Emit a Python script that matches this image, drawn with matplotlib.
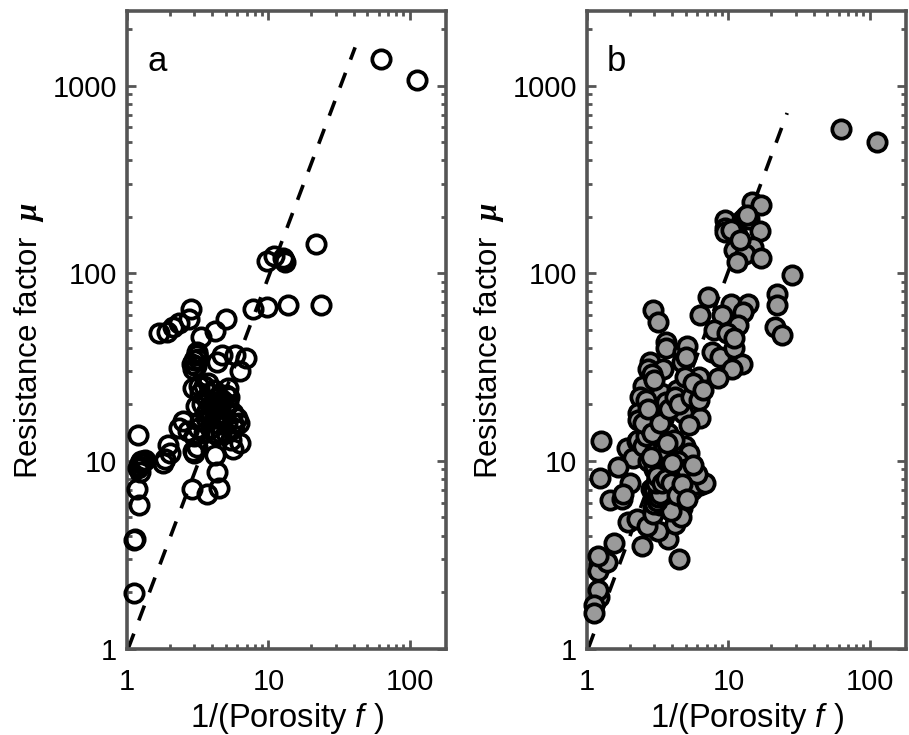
import matplotlib
matplotlib.use("Agg")
import matplotlib.pyplot as plt
from matplotlib.ticker import FixedLocator, FixedFormatter, NullFormatter

plt.rcParams['font.family'] = ['Liberation Sans', 'DejaVu Sans']
plt.rcParams['mathtext.fontset'] = 'custom'
plt.rcParams['mathtext.it'] = 'Liberation Sans:italic'
plt.rcParams['mathtext.rm'] = 'Liberation Sans'
plt.rcParams['mathtext.bfit'] = 'Liberation Serif:italic:bold'

# panel a
ax_x = [62, 112, 21.7, 23.5, 13.8, 9.7, 7.8, 9.7, 11, 12.6, 13, 12.8,
        2.83, 2.74, 2.33, 2.11, 1.92, 1.68, 3.33, 4.18, 5,
        3.1, 3, 2.9, 3.05, 3.15, 2.95, 3.2, 3.1, 4.7, 4.3, 5.8, 6.9, 6.3,
        2.93, 3.73, 5.2, 3.3, 5, 3.05, 4.3, 3.66, 5.6, 2.5, 2.33, 5.6, 4.5, 3.3,
        3.5, 3.8, 4.1, 4.4, 4.7, 3.4, 3.7, 4, 4.3, 4.6, 4.9, 5.2, 3.6, 3.9, 4.2, 4.5, 4.8, 5.1,
        3.2, 3.5, 3.9, 4.1, 4.6, 5.0, 2.7, 3.0, 5.4, 6.2, 6.0, 5.7, 3.25, 3.6, 5.3,
        1.2, 1.23, 1.2, 1.23, 1.18, 1.21, 1.25, 1.22, 1.3, 1.33, 1.12, 1.14, 1.12,
        1.95, 1.8, 2, 1.85, 2.93, 3.1, 3.0, 4.3, 5.6, 6.3, 4.2, 4.3, 4.5, 3.7, 2.87]
ay_y = [1380, 1070, 144, 67.5, 67.5, 66, 64.5, 116, 124, 120, 115, 118,
        64.5, 57, 54, 52, 48.5, 48, 45.5, 49, 57,
        36.5, 34.5, 33, 32, 37, 31, 35, 38, 36.5, 33.5, 36.5, 35.5, 30,
        24.5, 26, 24.5, 23, 22.5, 19.5, 20.5, 18.5, 18, 16.3, 15, 16, 15.8, 16.3,
        25, 23, 24, 22, 21, 20, 21, 20, 19, 20, 19, 20, 18, 18, 17, 18, 17, 16,
        15, 14, 15, 14, 14, 14, 14.5, 13.5, 13, 16, 17, 15, 25, 17, 22,
        13.7, 9.8, 9.2, 8.7, 7.1, 5.8, 10, 9.4, 10, 10.1, 3.8, 3.85, 1.97,
        12.1, 9.8, 11, 10.2, 11.3, 11.8, 11, 13.7, 11.6, 12.5, 10.7, 8.7, 7.2, 6.7, 7.1]

# panel b
bx_x = [62, 112, 22, 22, 21.5, 24, 28,
        14.6, 16.9, 9.4, 9.4, 9.4, 12.4, 13, 14, 16.7, 11.6, 11, 14.8, 13, 17, 11.5, 10.5, 12, 13.5,
        7.2, 6.3, 10.4, 9, 13.7, 12.6, 11.7, 7.9, 9.7, 7.6, 8.7, 11, 11, 12.4, 10.6, 8.4, 6.2, 5.9,
        2.93, 3.18, 3.6, 3.6, 2.79, 2.7, 3.45, 2.49, 2.37, 2.29, 2.29, 3.33, 3.6, 2.93, 4.3,
        4.76, 5.1, 4.7, 5, 4.76, 6.3, 5.3, 3.73, 4.9, 5.3, 4, 1.92, 2.1, 2.25, 1.66, 1.26, 1.24,
        1.45, 1.77, 2, 1.8, 1.95, 2.25, 1.55, 2.45, 4.5, 3.73, 4.25, 3.18, 2.65, 2.83, 4, 4.7,
        3.18, 4.9, 6.3, 5.5, 4.7, 2.93, 2.93, 4.2,
        1.22, 1.2, 1.38, 1.2, 1.22, 1.2, 1.12, 1.12,
        2.3, 2.5, 2.7, 3, 3.1, 3, 3.1, 3.2, 3.3, 3.5, 3.7, 3.6, 4, 3, 3.3, 3.5, 3.9, 4.2, 4.5,
        4.8, 5.2, 5.5, 4.5, 4.6, 3, 3.2, 2.6, 2.8, 3.4, 3.8, 4.4, 4.1, 3.9, 5.8, 5.0, 2.9, 3.0,
        6.8, 6, 5.6, 3, 3.1, 3.2, 3.3, 3.05, 3.15, 3.4, 3.6, 3.9, 4.3, 4.7, 5.1,
        2.6, 2.5, 2.7, 2.9, 3.3, 3.8, 4.2, 4.5, 4.9, 5.4, 5.6, 6.2, 6.6, 3.5, 3.7, 4.0, 2.85]
by_y = [590, 500, 78, 68, 52, 47, 98,
        240, 230, 192, 175, 165, 192, 200, 195, 168, 157, 133, 138, 127, 120, 115, 170, 150, 205,
        75, 60, 69, 60, 69, 62, 53, 50, 48, 38, 36, 40, 45, 33, 31, 27.5, 28, 23,
        64, 55, 43, 40, 33.5, 31, 31, 25, 22, 18, 16.5, 23, 20.5, 17.5, 24,
        38, 41, 33.5, 36, 18, 17, 15.5, 14, 12, 11, 11, 11.7, 10.4, 12.8, 9.3, 12.7, 8.1,
        6.2, 6.3, 7.6, 6.7, 4.7, 4.9, 3.63, 3.5, 3, 3.85, 4.9, 4.25, 4.5, 7.05, 7.2, 6.7,
        9.5, 8.9, 7.4, 7, 5.6, 5.6, 5.2, 4.6,
        2.77, 2.6, 2.9, 3.1, 1.87, 2.05, 1.7, 1.55,
        13, 12, 10, 9, 8, 7, 6.5, 6, 5.8, 6, 6.3, 7, 6.8, 9.5, 10.5, 8.5, 9, 8, 8.5,
        8, 7.5, 8, 6, 5, 11, 12, 13.5, 15, 13, 10, 10, 13, 5.4, 7.5, 9, 29, 27,
        7.6, 8.5, 9.5, 5.9, 6.1, 6.4, 6.7, 7.6, 8.3, 7.6, 8, 7.6, 6.6, 7.5, 6.3,
        21, 16, 19, 14, 16, 19, 22, 20, 28, 22, 26, 21, 24, 11.5, 12.5, 9.8, 10.5]

# dashed trend lines, end points
a_line_x = [1.02, 41]
a_line_y = [1, 1600]
b_line_x = [1.02, 26]
b_line_y = [1, 715]

x_ticks = [1, 10, 100]
y_ticks = [1, 10, 100, 1000]
minor_x = [m * d for d in [1, 10, 100] for m in range(2, 10) if m * d < 180]
minor_y = [m * d for d in [1, 10, 100, 1000] for m in range(2, 10) if m * d < 2500]

W = 909.0
H = 735.0
gray = '#555555'


def draw_panel(left, xs, ys, line_x, line_y, face, name):
    ax = fig.add_axes([left / W, 1 - 648.5 / H, 319 / W, 637.5 / H])
    ax.set_xscale('log')
    ax.set_yscale('log')
    ax.plot(line_x, line_y, color='k', lw=2.6, dashes=(4.4, 3.9), zorder=2)
    ax.plot(xs, ys, ls='none', marker='o', ms=13.2, mew=2.7, mec='k', mfc=face, zorder=3, clip_on=False)
    ax.set_xlim(1, 180)
    ax.set_ylim(1, 2500)
    ax.xaxis.set_major_locator(FixedLocator(x_ticks))
    ax.xaxis.set_major_formatter(FixedFormatter([str(t) for t in x_ticks]))
    ax.yaxis.set_major_locator(FixedLocator(y_ticks))
    ax.yaxis.set_major_formatter(FixedFormatter([str(t) for t in y_ticks]))
    ax.xaxis.set_minor_locator(FixedLocator(minor_x))
    ax.yaxis.set_minor_locator(FixedLocator(minor_y))
    ax.xaxis.set_minor_formatter(NullFormatter())
    ax.yaxis.set_minor_formatter(NullFormatter())
    ax.tick_params(which='major', direction='in', length=6.5, width=2, color=gray,
                   top=True, right=True, labelsize=21, labelcolor='k')
    ax.tick_params(which='minor', direction='in', length=3.5, width=2, color=gray,
                   top=True, right=True)
    ax.tick_params(axis='x', which='major', pad=14)
    ax.tick_params(axis='y', which='major', pad=7)
    for s in ax.spines.values():
        s.set_color(gray)
        s.set_linewidth(2.6)
    ax.set_xlabel(r'1/(Porosity $\mathit{f}$ )', fontsize=23.5, labelpad=4)
    ax.set_ylabel(r'Resistance factor  $\mathbfit{\mu}$', fontsize=22.5, labelpad=5, y=0.483)
    ax.text(0.063, 0.906, name, transform=ax.transAxes, fontsize=25, color='k', va='baseline')
    return ax


fig = plt.figure(figsize=(W / 100, H / 100), dpi=100)
draw_panel(127, ax_x, ay_y, a_line_x, a_line_y, 'none', 'a')
draw_panel(587, bx_x, by_y, b_line_x, b_line_y, '#9a9a9a', 'b')
fig.savefig('out.png', dpi=100)
